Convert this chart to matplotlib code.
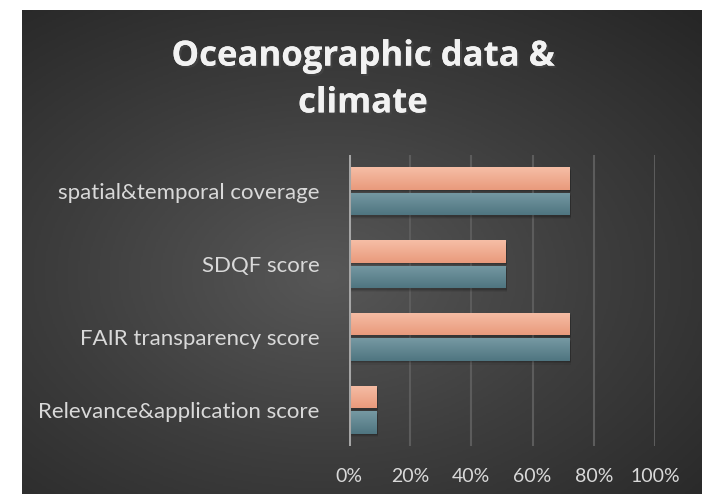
import numpy as np
import matplotlib.pyplot as plt
import matplotlib.patheffects as pe
from matplotlib.colors import LinearSegmentedColormap

# data
categories = ['spatial&temporal coverage', 'SDQF score',
              'FAIR transparency score', 'Relevance&application score']
series_a = [0.72, 0.51, 0.72, 0.09]   # orange (upper bar)
series_b = [0.72, 0.51, 0.72, 0.09]   # teal (lower bar)
x_ticks = [0, 0.2, 0.4, 0.6, 0.8, 1.0]
x_labels = ['0%', '20%', '40%', '60%', '80%', '100%']
title = 'Oceanographic data &\nclimate'

plt.rcParams['font.family'] = ['Lato', 'DejaVu Sans']

W, H = 702, 494
fig = plt.figure(figsize=(W / 100, H / 100), dpi=100)
fig.patch.set_facecolor('white')

# background panel with radial gradient
bg = fig.add_axes([22 / W, 0, (W - 22) / W, (H - 10) / H])
bg.set_axis_off()
yy, xx = np.mgrid[0:1:300j, 0:1:400j]
r = np.sqrt(((xx - 0.45) / 0.8) ** 2 + ((yy - 0.45) / 0.75) ** 2)
bg_cmap = LinearSegmentedColormap.from_list('bg', ['#575757', '#3d3d3d', '#262626'])
bg.imshow(np.clip(r, 0, 1), cmap=bg_cmap, aspect='auto', extent=[0, 1, 0, 1],
          origin='lower', vmin=0, vmax=1)
bg.set_xlim(0, 1)
bg.set_ylim(0, 1)

ax = fig.add_axes([349 / W, 48 / H, 306 / W, 291 / H])
ax.patch.set_alpha(0)

n = len(categories)
y = np.arange(n)[::-1]
h = 0.31
off = 0.175

def grad_bar(ax, yc, val, c_top, c_bot):
    # soft shadow under the bar
    for k, a in [(0.05, 0.06), (0.035, 0.09), (0.02, 0.12)]:
        ax.barh(yc - k, val + 0.004, height=h, left=0.002, color='black',
                alpha=a, lw=0, zorder=2)
    bars = ax.barh(yc, val, height=h, color='none', lw=0, zorder=3)
    grad = np.linspace(0, 1, 64).reshape(-1, 1)
    cm = LinearSegmentedColormap.from_list('g', [c_bot, c_top])
    im = ax.imshow(grad, cmap=cm, aspect='auto', origin='lower',
                   extent=[0, val, yc - h / 2, yc + h / 2], zorder=3)
    im.set_clip_path(bars[0])

for yc, va, vb in zip(y, series_a, series_b):
    grad_bar(ax, yc + off, va, '#f6bea6', '#e99a7c')
    grad_bar(ax, yc - off, vb, '#7699a3', '#4f7580')

ax.set_xlim(0, 1.0)
ax.set_ylim(-0.5, n - 0.5)
ax.set_xticks(x_ticks)
ax.set_xticklabels(x_labels)
ax.set_yticks(y)
ax.set_yticklabels(categories)
ax.tick_params(length=0, colors='#d9d9d9')
ax.tick_params(axis='x', pad=16, labelsize=14)
ax.tick_params(axis='y', pad=21, labelsize=16)
for s in ax.spines.values():
    s.set_visible(False)
ax.axvline(0, color='#a6a6a6', lw=2.2, zorder=4)
for t in x_ticks[1:]:
    ax.axvline(t, color='#5c5c5c', lw=1.5, zorder=1)

fig.text(363 / W, 1 - 80 / H, title, ha='center', va='center', fontsize=25,
         fontweight='bold', family=['Open Sans', 'DejaVu Sans'],
         color='#f2f2f2', linespacing=1.4,
         path_effects=[pe.withSimplePatchShadow(offset=(1.5, -1.5), alpha=0.6),
                       pe.Normal()])

fig.savefig('out.png', dpi=100, facecolor=fig.get_facecolor())
